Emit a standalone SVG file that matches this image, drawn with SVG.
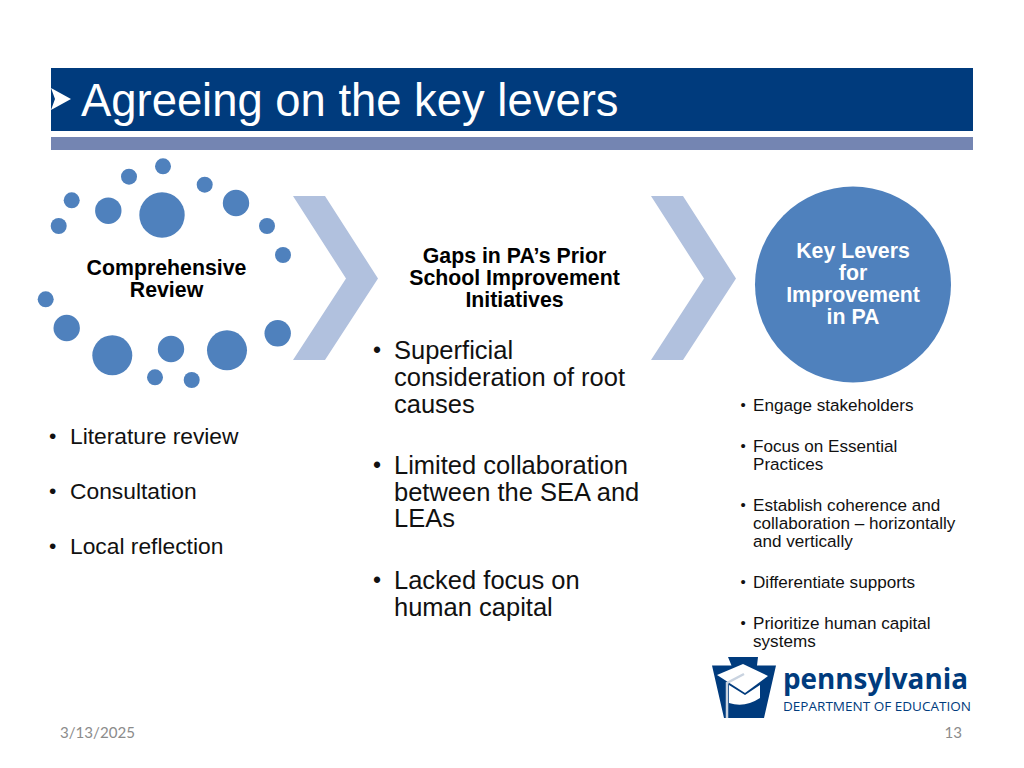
<svg xmlns="http://www.w3.org/2000/svg" width="1024" height="768" viewBox="0 0 1024 768">
<style>
text{font-family:"Liberation Sans",Arial,sans-serif;fill:#111}
.b{font-weight:bold;font-size:21.3px;text-anchor:middle;fill:#000}
.l{font-size:22.8px}
.m{font-size:25.5px}
.s{font-size:17.1px}
.l .u{font-size:21px}
.m .u{font-size:23px}
.s .u{font-size:15px}
.d{fill:#4f81bd}
.c{fill:#b1c1de}
.f{font-family:"Lato","Liberation Sans",sans-serif;font-size:15.1px;fill:#8b8b8b}
.k{font-family:"Open Sans","Liberation Sans",sans-serif;fill:#003b7d}
</style>
<rect width="1024" height="768" fill="#fff"/>
<g id="header">
<rect x="51" y="68" width="922" height="63" fill="#003b7d"/>
<rect x="51" y="137" width="922" height="13" fill="#7485b2"/>
<polygon points="51,88 71,99 51,110 55,99" fill="#fff"/>
<text x="81" y="116" style="font-size:45.4px;fill:#fff">Agreeing on the key levers</text>
</g>
<g id="node-review">
<g class="d">
<circle cx="163" cy="166.300" r="8"/><circle cx="129" cy="176.700" r="8"/><circle cx="204.700" cy="184.700" r="8"/><circle cx="71.700" cy="200.300" r="8"/><circle cx="58.700" cy="226" r="8"/><circle cx="267" cy="226" r="8"/><circle cx="283" cy="255" r="8"/><circle cx="45.700" cy="299.300" r="8"/><circle cx="155" cy="377.300" r="8"/><circle cx="191.700" cy="380" r="8"/>
<circle cx="108.300" cy="210.700" r="13.200"/><circle cx="236" cy="203" r="13.200"/><circle cx="66.700" cy="328" r="13.200"/><circle cx="277.700" cy="333.300" r="13.200"/><circle cx="171" cy="349" r="13.200"/>
<circle cx="162" cy="215" r="22.700"/><circle cx="112.300" cy="355.300" r="20"/><circle cx="227" cy="350.300" r="20"/>
</g>
<text class="b" x="166.500" y="275">Comprehensive</text>
<text class="b" x="166.500" y="297">Review</text>
</g>
<g id="list-review" class="l">
<text class="u" x="49" y="443">•</text><text x="70" y="444">Literature review</text>
<text class="u" x="49" y="498">•</text><text x="70" y="499">Consultation</text>
<text class="u" x="49" y="553">•</text><text x="70" y="554">Local reflection</text>
</g>
<g id="connectors">
<polygon class="c" points="293,196 325,196 378,278.500 325,360 293,360 346,278.500"/>
<polygon class="c" points="651,196 683,196 736,278.500 683,360 651,360 704,278.500"/>
</g>
<g id="node-gaps">
<text class="b" x="514.500" y="263">Gaps in PA’s Prior</text>
<text class="b" x="514.500" y="285">School Improvement</text>
<text class="b" x="514.500" y="307">Initiatives</text>
</g>
<g id="list-gaps" class="m">
<text class="u" x="373" y="358">•</text><text x="394" y="359">Superficial</text>
<text x="394" y="386">consideration of root</text>
<text x="394" y="413">causes</text>
<text class="u" x="373" y="473">•</text><text x="394" y="474">Limited collaboration</text>
<text x="394" y="501">between the SEA and</text>
<text x="394" y="527">LEAs</text>
<text class="u" x="373" y="588">•</text><text x="394" y="589">Lacked focus on</text>
<text x="394" y="616">human capital</text>
</g>
<g id="node-levers">
<circle cx="853" cy="284.500" r="98" fill="#4f81bd"/>
<text class="b" style="fill:#fff" x="853" y="258">Key Levers</text>
<text class="b" style="fill:#fff" x="853" y="280">for</text>
<text class="b" style="fill:#fff" x="853" y="302">Improvement</text>
<text class="b" style="fill:#fff" x="853" y="324">in PA</text>
</g>
<g id="list-levers" class="s">
<text class="u" x="740.500" y="410">•</text><text x="753" y="411">Engage stakeholders</text>
<text class="u" x="740.500" y="451">•</text><text x="753" y="452">Focus on Essential</text>
<text x="753" y="470">Practices</text>
<text class="u" x="740.500" y="510">•</text><text x="753" y="511">Establish coherence and</text>
<text x="753" y="529">collaboration – horizontally</text>
<text x="753" y="547">and vertically</text>
<text class="u" x="740.500" y="587">•</text><text x="753" y="588">Differentiate supports</text>
<text class="u" x="740.500" y="628">•</text><text x="753" y="629">Prioritize human capital</text>
<text x="753" y="647">systems</text>
</g>
<g id="logo">
<polygon points="728,657 758,657 757,665.500 776,665.500 764,718 724,718 712,665.500 731.500,665.500" fill="#003b7d"/>
<polygon points="717,675 743,664 768,676 745,693" fill="#fff"/>
<path d="M729,685 V703 Q745,708 760,698 V685 L745,695Z" fill="#fff"/>
<path d="M744,674 L727,683 V718" fill="none" stroke="#c9d3e0" stroke-width="2.500"/>
<text class="k" x="783" y="689" style="font-weight:bold;font-size:29px" textLength="185" lengthAdjust="spacingAndGlyphs">pennsylvania</text>
<text class="k" x="783" y="711" style="font-size:13.400px" textLength="188" lengthAdjust="spacingAndGlyphs">DEPARTMENT OF EDUCATION</text>
</g>
<g id="footer">
<text class="f" x="60" y="738">3/13/2025</text>
<text class="f" x="962" y="738" text-anchor="end">13</text>
</g>
</svg>
